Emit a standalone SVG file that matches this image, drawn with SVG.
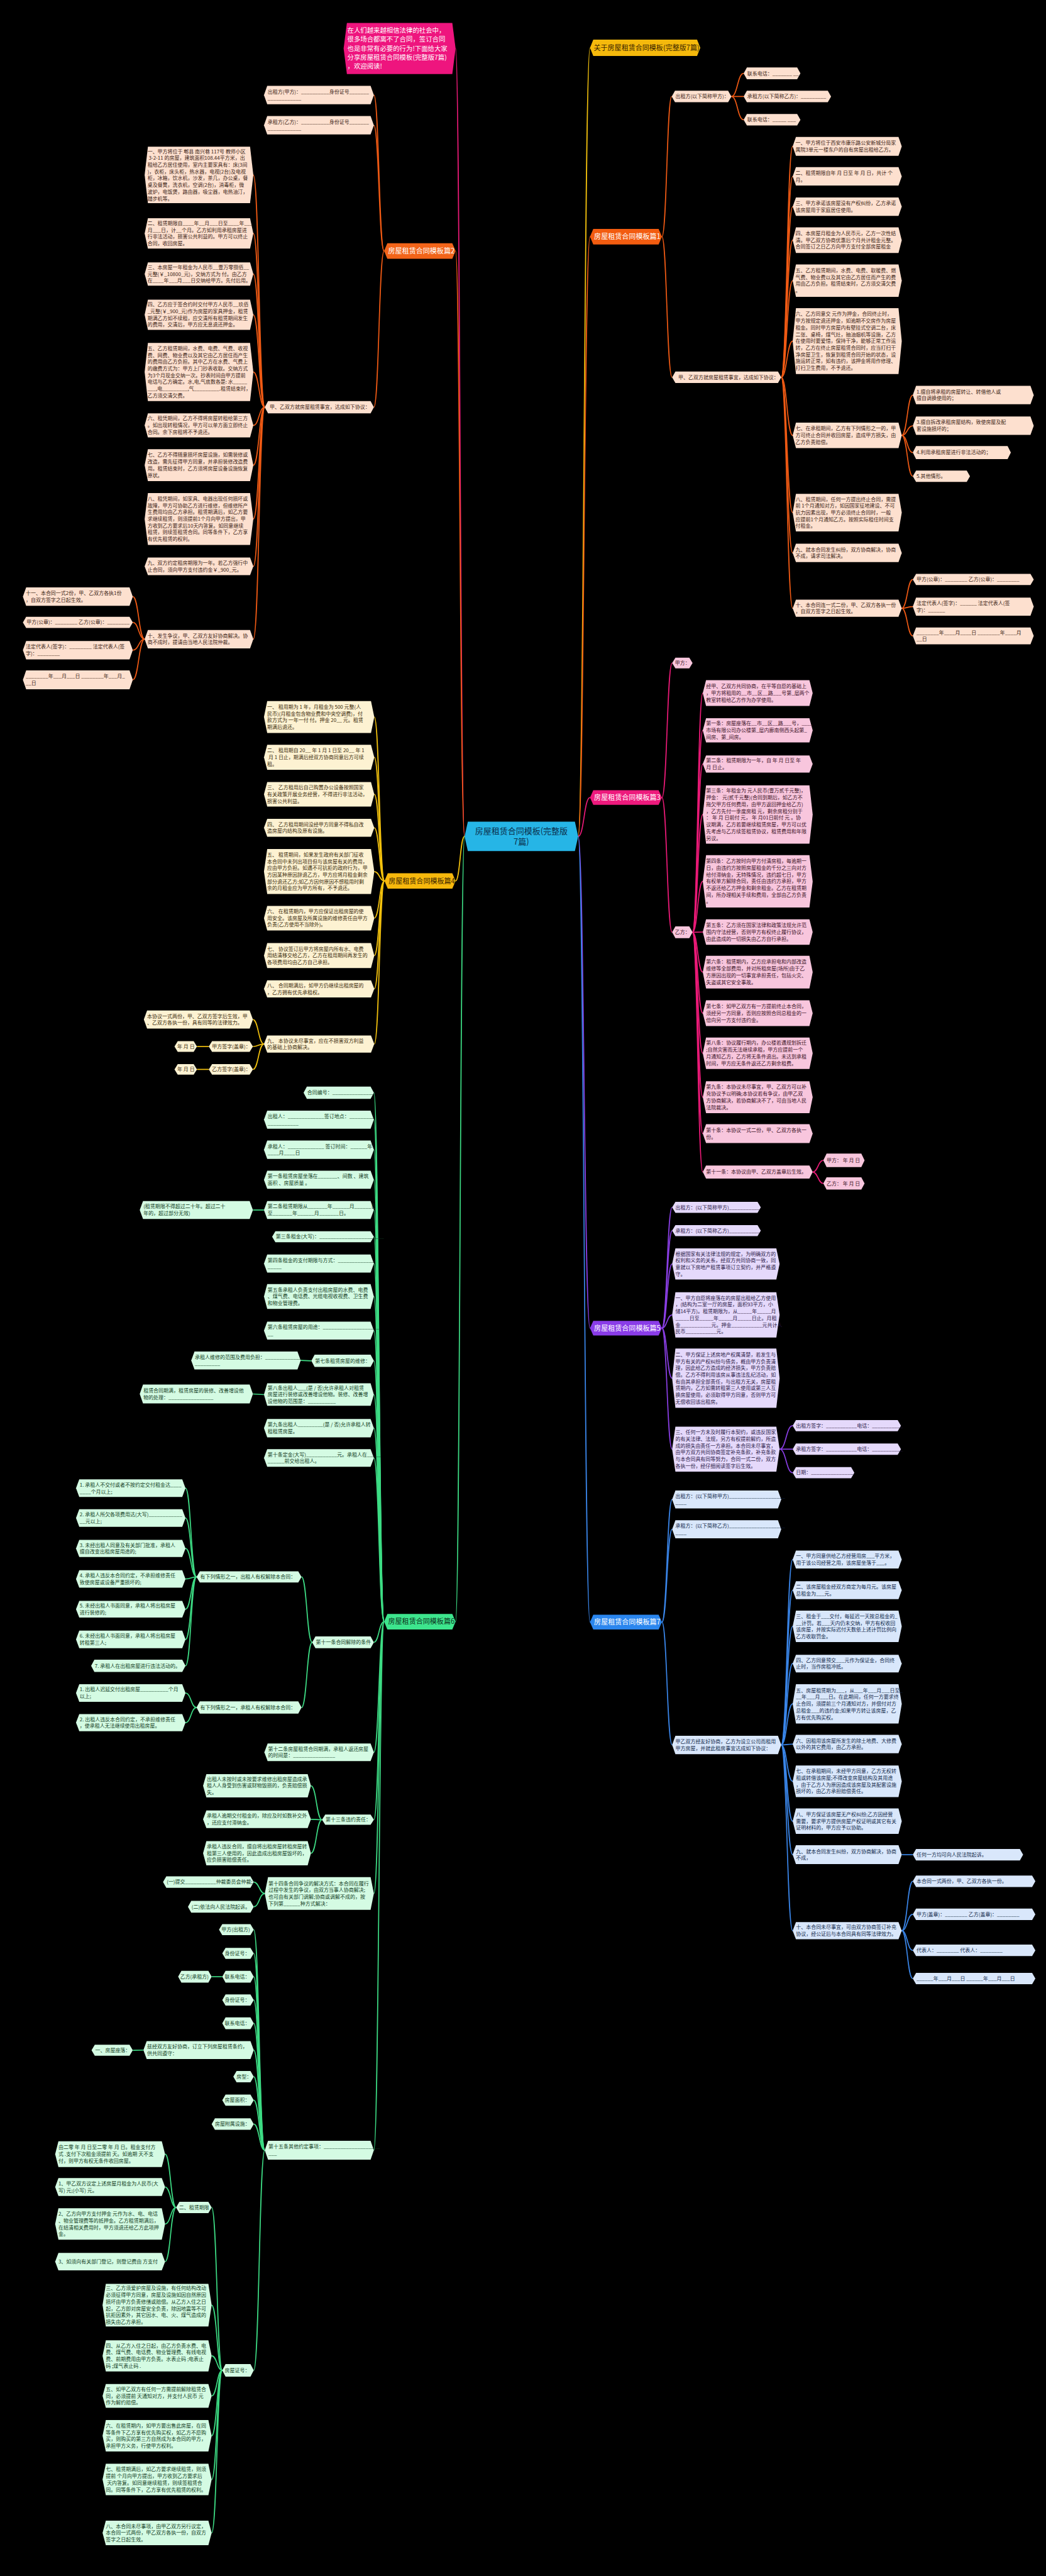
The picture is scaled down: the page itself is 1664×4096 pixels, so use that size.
<svg xmlns="http://www.w3.org/2000/svg" width="1664" height="4096" viewBox="0 0 1664 4096">
<defs>
<style>
text{font-family:"Noto Sans CJK SC","Noto Sans",sans-serif;font-size:12.3px}
.b text{font-size:17px}
.or path{fill:#fde0cf}.or text{fill:#3b2314}
.pk path{fill:#f8c6dd}.pk text{fill:#3a1025}
.ye path{fill:#fdf2d2}.ye text{fill:#3a2a0a}
.pu path{fill:#e5d9fb}.pu text{fill:#2a1846}
.gr path{fill:#d4fbe3}.gr text{fill:#123b24}
.bl path{fill:#d9e7fb}.bl text{fill:#10284a}
.cn path{fill:none;stroke-width:2.6}
.lo{stroke:#f05a14}.lp{stroke:#ec1a78}.ly{stroke:#f4c20d}.lu{stroke:#8b3fe6}.lg{stroke:#3ddc84}.lb{stroke:#3a86ea}
</style>
</defs>
<rect width="1664" height="4096" fill="#000"/>
<g transform="scale(0.65)">
<g id="connectors" class="cn">
<path class="ly" d="M1415,2046C1429.5,2046 1429.5,117 1444,117"/>
<path class="lo" d="M1415,2046C1429.5,2046 1429.5,579 1444,579"/>
<path class="lp" d="M1415,2046C1429.5,2046 1429.5,1951 1444,1951"/>
<path class="lu" d="M1415,2046C1429.5,2046 1429.5,3249 1444,3249"/>
<path class="lb" d="M1415,2046C1429.5,2046 1429.5,3968 1444,3968"/>
<path class="lp" d="M1137,2046C1126,2046 1126,118 1115,118"/>
<path class="lo" d="M1137,2046C1126,2046 1126,614 1115,614"/>
<path class="ly" d="M1137,2046C1126,2046 1126,2155 1115,2155"/>
<path class="lg" d="M1137,2046C1126,2046 1126,3967 1115,3967"/>
<g class="lo">
<path d="M1620,579C1632,579 1632,236 1644,236"/>
<path d="M1620,579C1632,579 1632,923 1645,923"/>
<path d="M1790,236C1805,236 1805,179.5 1820,179.5"/>
<path d="M1790,236L1820,236"/>
<path d="M1790,236C1805,236 1805,293 1820,293"/>
<path d="M1912,923C1926,923 1926,358 1940,358"/>
<path d="M1912,923C1926,923 1926,431.5 1940,431.5"/>
<path d="M1912,923C1926,923 1926,505.5 1940,505.5"/>
<path d="M1912,923C1926,923 1926,587.5 1940,587.5"/>
<path d="M1912,923C1926,923 1926,686.5 1940,686.5"/>
<path d="M1912,923C1926,923 1926,834.5 1940,834.5"/>
<path d="M1912,923C1926,923 1926,1065 1940,1065"/>
<path d="M1912,923C1926,923 1926,1254 1940,1254"/>
<path d="M1912,923C1926,923 1926,1352.5 1940,1352.5"/>
<path d="M1912,923C1926,923 1926,1488 1940,1488"/>
<path d="M2207,1065C2220.5,1065 2220.5,966.5 2234,966.5"/>
<path d="M2207,1065C2220.5,1065 2220.5,1041.5 2234,1041.5"/>
<path d="M2207,1065C2220.5,1065 2220.5,1107 2234,1107"/>
<path d="M2207,1065C2220.5,1065 2220.5,1165 2234,1165"/>
<path d="M2207,1488C2220.5,1488 2220.5,1417.5 2234,1417.5"/>
<path d="M2207,1488C2220.5,1488 2220.5,1484 2234,1484"/>
<path d="M2207,1488C2220.5,1488 2220.5,1555.5 2234,1555.5"/>
<path d="M940,614C927.5,614 927.5,232.5 915,232.5"/>
<path d="M940,614C927.5,614 927.5,306.5 915,306.5"/>
<path d="M940,614C927.5,614 927.5,996 915,996"/>
<path d="M648,996C634,996 634,428 620,428"/>
<path d="M648,996C634,996 634,571 620,571"/>
<path d="M648,996C634,996 634,670.5 620,670.5"/>
<path d="M648,996C634,996 634,770 620,770"/>
<path d="M648,996C634,996 634,910 620,910"/>
<path d="M648,996C634,996 634,1040.5 620,1040.5"/>
<path d="M648,996C634,996 634,1138 620,1138"/>
<path d="M648,996C634,996 634,1269.5 620,1269.5"/>
<path d="M648,996C634,996 634,1385.5 620,1385.5"/>
<path d="M648,996C634,996 634,1563.5 620,1563.5"/>
<path d="M354,1563.5C339.5,1563.5 339.5,1459.5 325,1459.5"/>
<path d="M354,1563.5C339.5,1563.5 339.5,1522.5 325,1522.5"/>
<path d="M354,1563.5C339.5,1563.5 339.5,1590.5 325,1590.5"/>
<path d="M354,1563.5C339.5,1563.5 339.5,1663 325,1663"/>
</g>
<g class="ly">
<path d="M941,2155C928.5,2155 928.5,1754 916,1754"/>
<path d="M941,2155C928.5,2155 928.5,1852.5 916,1852.5"/>
<path d="M941,2155C928.5,2155 928.5,1943 916,1943"/>
<path d="M941,2155C928.5,2155 928.5,2025 916,2025"/>
<path d="M941,2155C928.5,2155 928.5,2132 916,2132"/>
<path d="M941,2155C928.5,2155 928.5,2246 916,2246"/>
<path d="M941,2155C928.5,2155 928.5,2337.5 916,2337.5"/>
<path d="M941,2155C928.5,2155 928.5,2419 916,2419"/>
<path d="M941,2155C928.5,2155 928.5,2554 916,2554"/>
<path d="M646,2554C632.5,2554 632.5,2494 619,2494"/>
<path d="M646,2554C632.5,2554 632.5,2560 619,2560"/>
<path d="M646,2554C632.5,2554 632.5,2616 619,2616"/>
<path d="M511,2560L482,2560"/>
<path d="M511,2616L482,2616"/>
</g>
<g class="lg">
<path d="M940,3967C927.5,3967 927.5,2673 915,2673"/>
<path d="M940,3967C927.5,3967 927.5,2739 915,2739"/>
<path d="M940,3967C927.5,3967 927.5,2812.5 915,2812.5"/>
<path d="M940,3967C927.5,3967 927.5,2886 915,2886"/>
<path d="M940,3967C927.5,3967 927.5,2960 915,2960"/>
<path d="M940,3967C927.5,3967 927.5,3025.5 915,3025.5"/>
<path d="M940,3967C927.5,3967 927.5,3091 915,3091"/>
<path d="M940,3967C927.5,3967 927.5,3171.5 915,3171.5"/>
<path d="M940,3967C927.5,3967 927.5,3255 915,3255"/>
<path d="M940,3967C927.5,3967 927.5,3329 915,3329"/>
<path d="M940,3967C927.5,3967 927.5,3411.5 915,3411.5"/>
<path d="M940,3967C927.5,3967 927.5,3493.5 915,3493.5"/>
<path d="M940,3967C927.5,3967 927.5,3566.5 915,3566.5"/>
<path d="M940,3967C927.5,3967 927.5,4017.5 915,4017.5"/>
<path d="M940,3967C927.5,3967 927.5,4286.5 915,4286.5"/>
<path d="M940,3967C927.5,3967 927.5,4451.5 915,4451.5"/>
<path d="M940,3967C927.5,3967 927.5,4632 915,4632"/>
<path d="M940,3967C927.5,3967 927.5,5260 915,5260"/>
<path d="M646,2960L619,2960"/>
<path d="M762,3329L736,3328"/>
<path d="M646,3411.5L619,3410"/>
<path d="M764,4017.5C751,4017.5 751,3857.5 738,3857.5"/>
<path d="M764,4017.5C751,4017.5 751,4177 738,4177"/>
<path d="M481,3857.5C467.5,3857.5 467.5,3640.5 454,3640.5"/>
<path d="M481,3857.5C467.5,3857.5 467.5,3713.5 454,3713.5"/>
<path d="M481,3857.5C467.5,3857.5 467.5,3788 454,3788"/>
<path d="M481,3857.5C467.5,3857.5 467.5,3862.5 454,3862.5"/>
<path d="M481,3857.5C467.5,3857.5 467.5,3936.5 454,3936.5"/>
<path d="M481,3857.5C467.5,3857.5 467.5,4010.5 454,4010.5"/>
<path d="M481,3857.5C467.5,3857.5 467.5,4075 454,4075"/>
<path d="M481,4177C467.5,4177 467.5,4141.5 454,4141.5"/>
<path d="M481,4177C467.5,4177 467.5,4214 454,4214"/>
<path d="M788,4451.5C774.5,4451.5 774.5,4368.5 761,4368.5"/>
<path d="M788,4451.5C774.5,4451.5 774.5,4450.5 761,4450.5"/>
<path d="M788,4451.5C774.5,4451.5 774.5,4533.5 761,4533.5"/>
<path d="M648,4632C634.5,4632 634.5,4604 621,4604"/>
<path d="M648,4632C634.5,4632 634.5,4664.5 621,4664.5"/>
<path d="M648,5260C634.5,5260 634.5,4720.5 621,4720.5"/>
<path d="M648,5260C634.5,5260 634.5,4778.5 621,4778.5"/>
<path d="M648,5260C634.5,5260 634.5,4835.5 621,4835.5"/>
<path d="M648,5260C634.5,5260 634.5,4892.5 621,4892.5"/>
<path d="M648,5260C634.5,5260 634.5,4949.5 621,4949.5"/>
<path d="M648,5260C634.5,5260 634.5,5015 621,5015"/>
<path d="M648,5260C634.5,5260 634.5,5080 621,5080"/>
<path d="M648,5260C634.5,5260 634.5,5137.5 621,5137.5"/>
<path d="M648,5260C634.5,5260 634.5,5196 621,5196"/>
<path d="M648,5260C634.5,5260 634.5,5798.5 621,5798.5"/>
<path d="M544,4835.5L518,4835.5"/>
<path d="M351,5015L325,5015.5"/>
<path d="M544,5798.5C531,5798.5 531,5400 518,5400"/>
<path d="M544,5798.5C531,5798.5 531,5639 518,5639"/>
<path d="M544,5798.5C531,5798.5 531,5763 518,5763"/>
<path d="M544,5798.5C531,5798.5 531,5861 518,5861"/>
<path d="M544,5798.5C531,5798.5 531,5958.5 518,5958.5"/>
<path d="M544,5798.5C531,5798.5 531,6065.5 518,6065.5"/>
<path d="M544,5798.5C531,5798.5 531,6196 518,6196"/>
<path d="M431,5400C417.5,5400 417.5,5269.5 404,5269.5"/>
<path d="M431,5400C417.5,5400 417.5,5350 404,5350"/>
<path d="M431,5400C417.5,5400 417.5,5440.5 404,5440.5"/>
<path d="M431,5400C417.5,5400 417.5,5532.5 404,5532.5"/>
</g>
<g class="lp">
<path d="M1620,1951C1632.5,1951 1632.5,1622 1645,1622"/>
<path d="M1620,1951C1632.5,1951 1632.5,2280.5 1645,2280.5"/>
<path d="M1695,2280.5C1707.5,2280.5 1707.5,1695.5 1720,1695.5"/>
<path d="M1695,2280.5C1707.5,2280.5 1707.5,1786.5 1720,1786.5"/>
<path d="M1695,2280.5C1707.5,2280.5 1707.5,1869 1720,1869"/>
<path d="M1695,2280.5C1707.5,2280.5 1707.5,1992.5 1720,1992.5"/>
<path d="M1695,2280.5C1707.5,2280.5 1707.5,2156 1720,2156"/>
<path d="M1695,2280.5L1720,2280"/>
<path d="M1695,2280.5C1707.5,2280.5 1707.5,2378 1720,2378"/>
<path d="M1695,2280.5C1707.5,2280.5 1707.5,2478.5 1720,2478.5"/>
<path d="M1695,2280.5C1707.5,2280.5 1707.5,2576.5 1720,2576.5"/>
<path d="M1695,2280.5C1707.5,2280.5 1707.5,2684 1720,2684"/>
<path d="M1695,2280.5C1707.5,2280.5 1707.5,2773 1720,2773"/>
<path d="M1695,2280.5C1707.5,2280.5 1707.5,2867 1720,2867"/>
<path d="M1989,2867C2002,2867 2002,2838.5 2015,2838.5"/>
<path d="M1989,2867C2002,2867 2002,2895 2015,2895"/>
</g>
<g class="lu">
<path d="M1620,3249C1632.5,3249 1632.5,2953.5 1645,2953.5"/>
<path d="M1620,3249C1632.5,3249 1632.5,3010.5 1645,3010.5"/>
<path d="M1620,3249C1632.5,3249 1632.5,3092 1645,3092"/>
<path d="M1620,3249C1632.5,3249 1632.5,3216.5 1645,3216.5"/>
<path d="M1620,3249C1632.5,3249 1632.5,3371.5 1645,3371.5"/>
<path d="M1620,3249C1632.5,3249 1632.5,3545 1645,3545"/>
<path d="M1908,3545C1924,3545 1924,3487.5 1940,3487.5"/>
<path d="M1908,3545L1940,3545"/>
<path d="M1908,3545C1924,3545 1924,3602.5 1940,3602.5"/>
</g>
<g class="lb">
<path d="M1620,3968C1632.5,3968 1632.5,3668 1645,3668"/>
<path d="M1620,3968C1632.5,3968 1632.5,3741 1645,3741"/>
<path d="M1620,3968C1632.5,3968 1632.5,4268.5 1645,4268.5"/>
<path d="M1912,4268.5C1926,4268.5 1926,3815 1940,3815"/>
<path d="M1912,4268.5C1926,4268.5 1926,3890 1940,3890"/>
<path d="M1912,4268.5C1926,4268.5 1926,3978.5 1940,3978.5"/>
<path d="M1912,4268.5C1926,4268.5 1926,4069.5 1940,4069.5"/>
<path d="M1912,4268.5C1926,4268.5 1926,4168 1940,4168"/>
<path d="M1912,4268.5C1926,4268.5 1926,4266.5 1940,4266.5"/>
<path d="M1912,4268.5C1926,4268.5 1926,4357.5 1940,4357.5"/>
<path d="M1912,4268.5C1926,4268.5 1926,4455 1940,4455"/>
<path d="M1912,4268.5C1926,4268.5 1926,4537 1940,4537"/>
<path d="M1912,4268.5C1926,4268.5 1926,4723 1940,4723"/>
<path d="M2207,4537L2234,4537"/>
<path d="M2207,4723C2220.5,4723 2220.5,4602 2234,4602"/>
<path d="M2207,4723C2220.5,4723 2220.5,4683 2234,4683"/>
<path d="M2207,4723C2220.5,4723 2220.5,4771 2234,4771"/>
<path d="M2207,4723C2220.5,4723 2220.5,4840 2234,4840"/>
</g>
</g>

<g id="center"><path d="M1145,2010h262l8,36l-8,36h-262l-8,-36z" fill="#26b5e6"/><text x="1276" y="2040" text-anchor="middle" style="font-size:20px" fill="#0b2e4a"><tspan x="1276" dy="0">房屋租赁合同模板(完整版</tspan><tspan x="1276" dy="26">7篇)</tspan></text></g>
<g id="intro"><path d="M849,56h258l8,62.5l-8,62.5h-258l-8,-62.5z" fill="#ee157e"/><text x="850" y="80" style="font-size:16px" fill="#fff"><tspan x="850" dy="0">在人们越来越相信法律的社会中，</tspan><tspan x="850" dy="22">很多场合都离不了合同，签订合同</tspan><tspan x="850" dy="22">也是非常有必要的行为!下面给大家</tspan><tspan x="850" dy="22">分享房屋租赁合同模板(完整版7篇)</tspan><tspan x="850" dy="22">，欢迎阅读!</tspan></text></g>
<g id="about" class="b"><path d="M1452,97h254l8,20l-8,20h-254l-8,-20z" fill="#f5b90c"/><text x="1453" y="123" fill="#3b2500">关于房屋租赁合同模板(完整版7篇)</text></g>

<g id="p1" class="b"><path d="M1452,560h160l8,19l-8,19h-160l-8,-19z" fill="#f25c10"/><text x="1454" y="585" fill="#fff">房屋租赁合同模板篇1</text></g>
<g id="p2" class="b"><path d="M948,595h159l8,19l-8,19h-159l-8,-19z" fill="#f26419"/><text x="950" y="620" fill="#fff">房屋租赁合同模板篇2</text></g>
<g id="p3" class="b"><path d="M1452,1933h160l8,18l-8,18h-160l-8,-18z" fill="#ee1a7d"/><text x="1454" y="1957" fill="#fff">房屋租赁合同模板篇3</text></g>
<g id="p4" class="b"><path d="M949,2136h158l8,19l-8,19h-158l-8,-19z" fill="#f7b80c"/><text x="951" y="2161" fill="#3b2500">房屋租赁合同模板篇4</text></g>
<g id="p5" class="b"><path d="M1452,3231h160l8,18l-8,18h-160l-8,-18z" fill="#8a3ce8"/><text x="1454" y="3255" fill="#fff">房屋租赁合同模板篇5</text></g>
<g id="p6" class="b"><path d="M948,3948h159l8,19l-8,19h-159l-8,-19z" fill="#3de58d"/><text x="950" y="3973" fill="#0d3320">房屋租赁合同模板篇6</text></g>
<g id="p7" class="b"><path d="M1452,3950h160l8,18l-8,18h-160l-8,-18z" fill="#2b86ee"/><text x="1454" y="3974" fill="#fff">房屋租赁合同模板篇7</text></g>

<g class="or">
<g id="p1a"><path d="M1652,222h130l8,14l-8,14h-130l-8,-14z"/><text x="1653" y="240.4">出租方(以下简称甲方)：</text></g>
<g id="p1a1"><path d="M1828,165h123l8,14.5l-8,14.5h-123l-8,-14.5z"/><text x="1829" y="183.9">联系电话：_______ __</text></g>
<g id="p1a2"><path d="M1828,222h198l8,14l-8,14h-198l-8,-14z"/><text x="1829" y="240.4">承租方(以下简称乙方)：_________</text></g>
<g id="p1a3"><path d="M1828,279h123l8,14l-8,14h-123l-8,-14z"/><text x="1829" y="297.4">联系电话：_____ ___</text></g>
<g id="p1b"><path d="M1653,909h251l8,14l-8,14h-251l-8,-14z"/><text x="1660" y="927.4">甲、乙双方就房屋租赁事宜，达成如下协议：</text></g>
<g id="p1b1"><path d="M1948,335h251l8,23l-8,23h-251l-8,-23z"/><text x="1947" y="354.15"><tspan x="1947" dy="0">一、甲方将位于西安市康乐路公安新城分局家</tspan><tspan x="1947" dy="16.5">属院3单元一楼东户的自有房屋出租给乙方。</tspan></text></g>
<g id="p1b2"><path d="M1948,409h251l8,22.5l-8,22.5h-251l-8,-22.5z"/><text x="1947" y="427.65"><tspan x="1947" dy="0">二、租赁期限自年 月 日至 年 月 日，共计 个</tspan><tspan x="1947" dy="16.5">月。</tspan></text></g>
<g id="p1b3"><path d="M1948,483h251l8,22.5l-8,22.5h-251l-8,-22.5z"/><text x="1947" y="501.65"><tspan x="1947" dy="0">三、甲方承诺该房屋没有产权纠纷，乙方承诺</tspan><tspan x="1947" dy="16.5">该房屋用于家庭居住使用。</tspan></text></g>
<g id="p1b4"><path d="M1948,556h251l8,31.5l-8,31.5h-251l-8,-31.5z"/><text x="1947" y="575.4"><tspan x="1947" dy="0">四、本房屋月租金为人民币元，乙方一次性结</tspan><tspan x="1947" dy="16.5">清。甲乙双方协商优惠后个月共计租金元整。</tspan><tspan x="1947" dy="16.5">合同签订之日乙方向甲方支付全部房屋租金</tspan></text></g>
<g id="p1b5"><path d="M1948,647h251l8,39.5l-8,39.5h-251l-8,-39.5z"/><text x="1947" y="666.15"><tspan x="1947" dy="0">五、乙方租赁期间，水费、电费、取暖费、燃</tspan><tspan x="1947" dy="16.5">气费、物业费以及其它由乙方居住而产生的费</tspan><tspan x="1947" dy="16.5">用由乙方负担。租赁结束时，乙方须交清欠费</tspan><tspan x="1947" dy="16.5">。</tspan></text></g>
<g id="p1b6"><path d="M1948,754h251l8,80.5l-8,80.5h-251l-8,-80.5z"/><text x="1947" y="772.9"><tspan x="1947" dy="0">六、乙方同意交 元作为押金，合同终止时，</tspan><tspan x="1947" dy="16.5">甲方按规定退还押金，如逾期不交房作为房屋</tspan><tspan x="1947" dy="16.5">租金。同时甲方房屋内有壁挂式空调二台，床</tspan><tspan x="1947" dy="16.5">二张、桌椅，煤气灶，抽油烟机等设施，乙方</tspan><tspan x="1947" dy="16.5">在使用时要爱惜，保持干净，能够正常工作运</tspan><tspan x="1947" dy="16.5">转，乙方在终止房屋租赁合同时，应当打扫干</tspan><tspan x="1947" dy="16.5">净房屋卫生，恢复到租赁合同开始的状态，设</tspan><tspan x="1947" dy="16.5">施运转正常，如有违约，该押金将用作修理、</tspan><tspan x="1947" dy="16.5">打扫卫生费用，不予退还。</tspan></text></g>
<g id="p1b7"><path d="M1948,1034h251l8,31l-8,31h-251l-8,-31z"/><text x="1947" y="1052.9"><tspan x="1947" dy="0">七、在承租期间，乙方有下列情形之一的，甲</tspan><tspan x="1947" dy="16.5">方可终止合同并收回房屋，造成甲方损失，由</tspan><tspan x="1947" dy="16.5">乙方负责赔偿。</tspan></text></g>
<g id="p1b8"><path d="M1948,1208h251l8,46l-8,46h-251l-8,-46z"/><text x="1947" y="1225.4"><tspan x="1947" dy="0">八、租赁期间，任何一方提出终止合同，需提</tspan><tspan x="1947" dy="16.5">前 1个月通知对方，如因国家征地建设、不可</tspan><tspan x="1947" dy="16.5">抗力因素出现，甲方必须终止合同时，一般</tspan><tspan x="1947" dy="16.5">应提前1个月通知乙方。按照实际租住时间支</tspan><tspan x="1947" dy="16.5">付租金。</tspan></text></g>
<g id="p1b9"><path d="M1948,1330h251l8,22.5l-8,22.5h-251l-8,-22.5z"/><text x="1947" y="1348.65"><tspan x="1947" dy="0">九、就本合同发生纠纷，双方协商解决，协商</tspan><tspan x="1947" dy="16.5">不成，请求司法解决。</tspan></text></g>
<g id="p1b10"><path d="M1948,1467h251l8,21l-8,21h-251l-8,-21z"/><text x="1947" y="1484.15"><tspan x="1947" dy="0">十、本合同连一式二份，甲、乙双方各执一份</tspan><tspan x="1947" dy="16.5">，自双方签字之日起生效。</tspan></text></g>
<g id="p1c1"><path d="M2242,944h280l8,22.5l-8,22.5h-280l-8,-22.5z"/><text x="2243" y="962.65"><tspan x="2243" dy="0">1.擅自将承租的房屋转让、转借他人或</tspan><tspan x="2243" dy="16.5">擅自调换使用的；</tspan></text></g>
<g id="p1c3"><path d="M2242,1019h280l8,22.5l-8,22.5h-280l-8,-22.5z"/><text x="2243" y="1037.65"><tspan x="2243" dy="0">3.擅自拆改承租房屋结构，致使房屋及配</tspan><tspan x="2243" dy="16.5">套设施损坏的；</tspan></text></g>
<g id="p1c4"><path d="M2242,1091h224l8,16l-8,16h-224l-8,-16z"/><text x="2243" y="1111.4">4.利用承租房屋进行非法活动的；</text></g>
<g id="p1c5"><path d="M2242,1151h124l8,14l-8,14h-124l-8,-14z"/><text x="2243" y="1169.4">5.其他情形。</text></g>
<g id="p1d1"><path d="M2242,1404h280l8,13.5l-8,13.5h-280l-8,-13.5z"/><text x="2243" y="1421.9">甲方(公章)：________ 乙方(公章)：________</text></g>
<g id="p1d2"><path d="M2242,1462h280l8,22l-8,22h-280l-8,-22z"/><text x="2243" y="1480.15"><tspan x="2243" dy="0">法定代表人(签字)：______ 法定代表人(签</tspan><tspan x="2243" dy="16.5">字)：______</tspan></text></g>
<g id="p1d3"><path d="M2242,1535h280l8,20.5l-8,20.5h-280l-8,-20.5z"/><text x="2243" y="1551.65"><tspan x="2243" dy="0">________年____月____日 ________年____月</tspan><tspan x="2243" dy="16.5">__日</tspan></text></g>

<g id="p2a"><path d="M654,210h253l8,22.5l-8,22.5h-253l-8,-22.5z"/><text x="655" y="228.65"><tspan x="655" dy="0">出租方(甲方)：__________身份证号_______</tspan><tspan x="655" dy="16.5">____________</tspan></text></g>
<g id="p2b"><path d="M654,284h253l8,22.5l-8,22.5h-253l-8,-22.5z"/><text x="655" y="302.65"><tspan x="655" dy="0">承租方(乙方)：__________身份证号_______</tspan><tspan x="655" dy="16.5">____________</tspan></text></g>
<g id="p2c"><path d="M656,981h251l8,15l-8,15h-251l-8,-15z"/><text x="660" y="1000.4">甲、乙双方就房屋租赁事宜，达成如下协议：</text></g>
<g id="p2c1"><path d="M362,359h250l8,69l-8,69h-250l-8,-69z"/><text x="361" y="374.65"><tspan x="361" dy="0">一、甲方将位于 郫县 南兴巷 117号 教师小区</tspan><tspan x="361" dy="16.5"> 3-2-11 的房屋，建筑面积108.44平方米，出</tspan><tspan x="361" dy="16.5">租给乙方居住使用，室内主要家具有：床(3间</tspan><tspan x="361" dy="16.5">)，衣柜，床头柜，热水器，电视(2台)及电视</tspan><tspan x="361" dy="16.5">柜，冰箱，饮水机，沙发，茶几，办公桌，餐</tspan><tspan x="361" dy="16.5">桌及餐凳，洗衣机，空调(2台)，消毒柜，微</tspan><tspan x="361" dy="16.5">波炉，电饭煲，路由器，吸尘器，电热油汀，</tspan><tspan x="361" dy="16.5">踏步机等。</tspan></text></g>
<g id="p2c2"><path d="M362,534h250l8,37l-8,37h-250l-8,-37z"/><text x="361" y="550.65"><tspan x="361" dy="0">二、租赁期限自____年__月___日至____年___</tspan><tspan x="361" dy="16.5">月___日，计__个月。乙方如利用承租房屋进</tspan><tspan x="361" dy="16.5">行非法活动，损害公共利益的。甲方可以终止</tspan><tspan x="361" dy="16.5">合同，收回房屋。</tspan></text></g>
<g id="p2c3"><path d="M362,642h250l8,28.5l-8,28.5h-250l-8,-28.5z"/><text x="361" y="658.4"><tspan x="361" dy="0">三、本房屋一年租金为人民币__壹万零捌佰__</tspan><tspan x="361" dy="16.5">元整(￥_10800_元)，交纳方式为 付。由乙方</tspan><tspan x="361" dy="16.5">在____年___月___日交纳给甲方。先付后用。</tspan></text></g>
<g id="p2c4"><path d="M362,733h250l8,37l-8,37h-250l-8,-37z"/><text x="361" y="749.65"><tspan x="361" dy="0">四、乙方应于签合约时交付甲方人民币__玖佰</tspan><tspan x="361" dy="16.5">_元整(￥_900_元)作为房屋的家具押金，租赁</tspan><tspan x="361" dy="16.5">期满乙方如不续租，应交清所有租赁期间发生</tspan><tspan x="361" dy="16.5">的费用，交清后，甲方应无息退还押金。</tspan></text></g>
<g id="p2c5"><path d="M362,839h250l8,71l-8,71h-250l-8,-71z"/><text x="361" y="856.65"><tspan x="361" dy="0">五、乙方租赁期间，水费、电费、气费、收视</tspan><tspan x="361" dy="16.5">费、网费、物业费以及其它由乙方居住而产生</tspan><tspan x="361" dy="16.5">的费用由乙方负担。其中乙方在水费、气费上</tspan><tspan x="361" dy="16.5">的缴费方式为：甲方上门抄表收取。交纳方式</tspan><tspan x="361" dy="16.5">为3个月现金交纳一次。抄表时间由甲方提前</tspan><tspan x="361" dy="16.5">电话与乙方确定。水,电,气底数各是: 水_____</tspan><tspan x="361" dy="16.5">___,电_________,气_________.租赁结束时，</tspan><tspan x="361" dy="16.5">乙方须交清欠费。</tspan></text></g>
<g id="p2c6"><path d="M362,1011h250l8,29.5l-8,29.5h-250l-8,-29.5z"/><text x="361" y="1028.4"><tspan x="361" dy="0">六、租凭期间，乙方不得将房屋转租给第三方</tspan><tspan x="361" dy="16.5">。如出现转租情况，甲方可以单方面立即终止</tspan><tspan x="361" dy="16.5">合同。余下房租将不予退还。</tspan></text></g>
<g id="p2c7"><path d="M362,1099h250l8,39l-8,39h-250l-8,-39z"/><text x="361" y="1117.65"><tspan x="361" dy="0">七、乙方不得随意损坏房屋设施，如需装修或</tspan><tspan x="361" dy="16.5">改造，需先征得甲方同意，并承担装修改造费</tspan><tspan x="361" dy="16.5">用。租赁结束时，乙方须将房屋设备设施恢复</tspan><tspan x="361" dy="16.5">原状。</tspan></text></g>
<g id="p2c8"><path d="M362,1206h250l8,63.5l-8,63.5h-250l-8,-63.5z"/><text x="361" y="1224.4"><tspan x="361" dy="0">八、租凭期间，如家具、电器出现任何损坏或</tspan><tspan x="361" dy="16.5">故障，甲方可协助乙方进行维修，但维修所产</tspan><tspan x="361" dy="16.5">生费用均由乙方承担。租赁期满后，如乙方要</tspan><tspan x="361" dy="16.5">求继续租赁，则须提前1个月向甲方提出，甲</tspan><tspan x="361" dy="16.5">方收到乙方要求后10天内答复。如同意继续</tspan><tspan x="361" dy="16.5">租赁，则续签租赁合同。同等条件下，乙方享</tspan><tspan x="361" dy="16.5">有优先租赁的权利。</tspan></text></g>
<g id="p2c9"><path d="M362,1364h250l8,21.5l-8,21.5h-250l-8,-21.5z"/><text x="361" y="1381.65"><tspan x="361" dy="0">九、双方约定租房期限为一年。若乙方强行中</tspan><tspan x="361" dy="16.5">止合同，须向甲方支付违约金￥_900_元。</tspan></text></g>
<g id="p2c10"><path d="M362,1541h250l8,22.5l-8,22.5h-250l-8,-22.5z"/><text x="361" y="1559.65"><tspan x="361" dy="0">十、发生争议，甲、乙双方友好协商解决。协</tspan><tspan x="361" dy="16.5">商不成时，提请由当地人民法院仲裁。</tspan></text></g>
<g id="p2d1"><path d="M64,1437h253l8,22.5l-8,22.5h-253l-8,-22.5z"/><text x="63" y="1455.65"><tspan x="63" dy="0">十一、本合同一式2份，甲、乙双方各执1份</tspan><tspan x="63" dy="16.5">，自双方签字之日起生效。</tspan></text></g>
<g id="p2d2"><path d="M64,1509h253l8,13.5l-8,13.5h-253l-8,-13.5z"/><text x="65" y="1526.9">甲方(公章)：________ 乙方(公章)：________</text></g>
<g id="p2d3"><path d="M64,1568h253l8,22.5l-8,22.5h-253l-8,-22.5z"/><text x="63" y="1586.65"><tspan x="63" dy="0">法定代表人(签字)：________ 法定代表人(签</tspan><tspan x="63" dy="16.5">字)：________</tspan></text></g>
<g id="p2d4"><path d="M64,1640h253l8,23l-8,23h-253l-8,-23z"/><text x="63" y="1659.15"><tspan x="63" dy="0">________年___月___日 ________年___月_</tspan><tspan x="63" dy="16.5">__日</tspan></text></g>
</g>

<g class="ye">
<g id="p4a1"><path d="M654,1715h254l8,39l-8,39h-254l-8,-39z"/><text x="654" y="1733.65"><tspan x="654" dy="0">一、 租用期为 1 年，月租金为 500 元整(人</tspan><tspan x="654" dy="16.5">民币)(月租金包含物业费和中央空调费)，付</tspan><tspan x="654" dy="16.5">款方式为 一年一付 付。押金 20__ 元。租赁</tspan><tspan x="654" dy="16.5">期满后退还。</tspan></text></g>
<g id="p4a2"><path d="M654,1822h254l8,30.5l-8,30.5h-254l-8,-30.5z"/><text x="654" y="1840.4"><tspan x="654" dy="0">二、 租用期自 20__ 年 1 月 1 日至 20__ 年 1</tspan><tspan x="654" dy="16.5"> 月 1 日止，期满后经双方协商同意后方可续</tspan><tspan x="654" dy="16.5">租。</tspan></text></g>
<g id="p4a3"><path d="M654,1913h254l8,30l-8,30h-254l-8,-30z"/><text x="654" y="1930.9"><tspan x="654" dy="0">三、 乙方租用后自己购置办公设备按照国家</tspan><tspan x="654" dy="16.5">有关政策开展业务经营，不得进行非法活动，</tspan><tspan x="654" dy="16.5">损害公共利益。</tspan></text></g>
<g id="p4a4"><path d="M654,2003h254l8,22l-8,22h-254l-8,-22z"/><text x="654" y="2021.15"><tspan x="654" dy="0">四、 乙方租用期间没经甲方同意不得私自改</tspan><tspan x="654" dy="16.5">造房屋内结构及原有设施。</tspan></text></g>
<g id="p4a5"><path d="M654,2077h254l8,55l-8,55h-254l-8,-55z"/><text x="654" y="2095.15"><tspan x="654" dy="0">五、 租赁期间，如果发生政府有关部门征收</tspan><tspan x="654" dy="16.5">本合同中未列出项目但与该房屋有关的费用，</tspan><tspan x="654" dy="16.5">应由甲方负担。如遇不可抗拒的政府行为，甲</tspan><tspan x="654" dy="16.5">方因某种原因辞退乙方，甲方应将月租金剩余</tspan><tspan x="654" dy="16.5">部分退还乙方;如乙方因何原因不想租用时剩</tspan><tspan x="654" dy="16.5">余的月租金应为甲方所有，不予退还。</tspan></text></g>
<g id="p4a6"><path d="M654,2216h254l8,30l-8,30h-254l-8,-30z"/><text x="654" y="2233.9"><tspan x="654" dy="0">六、 在租赁期内，甲方应保证出租房屋的使</tspan><tspan x="654" dy="16.5">用安全。该房屋及所属设施的维修责任由甲方</tspan><tspan x="654" dy="16.5">负责(乙方使用不当除外)。</tspan></text></g>
<g id="p4a7"><path d="M654,2307h254l8,30.5l-8,30.5h-254l-8,-30.5z"/><text x="654" y="2325.4"><tspan x="654" dy="0">七、 协议签订后甲方将房屋内所有水、电费</tspan><tspan x="654" dy="16.5">用结清移交给乙方，乙方在租用期间再发生的</tspan><tspan x="654" dy="16.5">各项费用均由乙方自己承担。</tspan></text></g>
<g id="p4a8"><path d="M654,2398h254l8,21l-8,21h-254l-8,-21z"/><text x="654" y="2415.15"><tspan x="654" dy="0">八、 合同期满后，如甲方仍继续出租房屋的</tspan><tspan x="654" dy="16.5">，乙方拥有优先承租权。</tspan></text></g>
<g id="p4a9"><path d="M654,2533h254l8,21l-8,21h-254l-8,-21z"/><text x="654" y="2550.15"><tspan x="654" dy="0">九、 本协议未尽事宜，应在不损害双方利益</tspan><tspan x="654" dy="16.5">的基础上协商解决。</tspan></text></g>
<g id="p4b1"><path d="M360,2472h251l8,22l-8,22h-251l-8,-22z"/><text x="360" y="2490.15"><tspan x="360" dy="0">本协议一式两份，甲、乙双方签字后生效，甲</tspan><tspan x="360" dy="16.5">、乙双方各执一份，具有同等的法律效力。</tspan></text></g>
<g id="p4b2"><path d="M519,2547h92l8,13l-8,13h-92l-8,-13z"/><text x="519" y="2564.4">甲方签字(盖章)：</text></g>
<g id="p4b2a"><path d="M435,2547h39l8,13l-8,13h-39l-8,-13z"/><text x="434" y="2564.4">年 月 日</text></g>
<g id="p4b3"><path d="M519,2603h92l8,13l-8,13h-92l-8,-13z"/><text x="519" y="2620.4">乙方签字(盖章)：</text></g>
<g id="p4b3a"><path d="M435,2603h39l8,13l-8,13h-39l-8,-13z"/><text x="434" y="2620.4">年 月 日</text></g>
</g>

<g class="gr">
<g id="p6a"><path d="M751,2658h156l8,15l-8,15h-156l-8,-15z"/><text x="752" y="2677.4">合同编号：_______________</text></g>
<g id="p6b"><path d="M654,2717h253l8,22l-8,22h-253l-8,-22z"/><text x="655" y="2735.15"><tspan x="655" dy="0">出租人：_____________签订地点：_________</tspan><tspan x="655" dy="16.5">___________</tspan></text></g>
<g id="p6c"><path d="M654,2790h253l8,22.5l-8,22.5h-253l-8,-22.5z"/><text x="655" y="2808.65"><tspan x="655" dy="0">承租人：_____________ 签订时间：______年</tspan><tspan x="655" dy="16.5">____月____日</tspan></text></g>
<g id="p6d"><path d="M654,2864h253l8,22l-8,22h-253l-8,-22z"/><text x="655" y="2882.15"><tspan x="655" dy="0">第一条租赁房屋坐落在_______、间数 、建筑</tspan><tspan x="655" dy="16.5">面积 、房屋质量 。</tspan></text></g>
<g id="p6e"><path d="M654,2938h253l8,22l-8,22h-253l-8,-22z"/><text x="655" y="2956.15"><tspan x="655" dy="0">第二条租赁期限从_______年______月______日</tspan><tspan x="655" dy="16.5">至_______年______月_______日。</tspan></text></g>
<g id="p6e1"><path d="M350,2938h261l8,22l-8,22h-261l-8,-22z"/><text x="351" y="2956.15"><tspan x="351" dy="0">(租赁期限不得超过二十年。超过二十</tspan><tspan x="351" dy="16.5">年的，超过部分无效)</tspan></text></g>
<g id="p6f"><path d="M674,3012h233l8,13.5l-8,13.5h-233l-8,-13.5z"/><text x="675" y="3029.9">第三条租金(大写)：_______________________</text></g>
<g id="p6g"><path d="M654,3069h253l8,22l-8,22h-253l-8,-22z"/><text x="655" y="3087.15"><tspan x="655" dy="0">第四条租金的支付期限与方式：_____________</tspan><tspan x="655" dy="16.5">_____</tspan></text></g>
<g id="p6h"><path d="M654,3141h253l8,30.5l-8,30.5h-253l-8,-30.5z"/><text x="655" y="3159.4"><tspan x="655" dy="0">第五条承租人负责支付出租房屋的水费、电费</tspan><tspan x="655" dy="16.5">、煤气费、电话费、光缆电视收视费、卫生费</tspan><tspan x="655" dy="16.5">和物业管理费。</tspan></text></g>
<g id="p6i"><path d="M654,3233h253l8,22l-8,22h-253l-8,-22z"/><text x="655" y="3251.15"><tspan x="655" dy="0">第六条租赁房屋的用途：____________________</tspan><tspan x="655" dy="16.5">__</tspan></text></g>
<g id="p6j"><path d="M770,3314h137l8,15l-8,15h-137l-8,-15z"/><text x="771" y="3333.4">第七条租赁房屋的维修：</text></g>
<g id="p6j1"><path d="M476,3306h252l8,22l-8,22h-252l-8,-22z"/><text x="477" y="3324.15"><tspan x="477" dy="0">承租人维修的范围及费用负担：_____________</tspan><tspan x="477" dy="16.5">_________</tspan></text></g>
<g id="p6k"><path d="M654,3384h253l8,27.5l-8,27.5h-253l-8,-27.5z"/><text x="655" y="3399.4"><tspan x="655" dy="0">第八条出租人___(是 / 否)允许承租人对租赁</tspan><tspan x="655" dy="16.5">房屋进行装修或改善增设他物。装修、改善增</tspan><tspan x="655" dy="16.5">设他物的范围是：__________</tspan></text></g>
<g id="p6k1"><path d="M350,3387h261l8,23l-8,23h-261l-8,-23z"/><text x="351" y="3406.15"><tspan x="351" dy="0">租赁合同期满，租赁房屋的装修、改善增设他</tspan><tspan x="351" dy="16.5">物的处理：________________</tspan></text></g>
<g id="p6l"><path d="M654,3471h253l8,22.5l-8,22.5h-253l-8,-22.5z"/><text x="655" y="3489.65"><tspan x="655" dy="0">第九条出租人_________(是 / 否)允许承租人转</tspan><tspan x="655" dy="16.5">租租赁房屋。</tspan></text></g>
<g id="p6m"><path d="M654,3545h253l8,21.5l-8,21.5h-253l-8,-21.5z"/><text x="655" y="3562.65"><tspan x="655" dy="0">第十条定金(大写)___________元。承租人在_____</tspan><tspan x="655" dy="16.5">______前交给出租人。</tspan></text></g>
<g id="p6n"><path d="M772,4003h135l8,14.5l-8,14.5h-135l-8,-14.5z"/><text x="773" y="4021.9">第十一条合同解除的条件</text></g>
<g id="p6n1"><path d="M489,3844h241l8,13.5l-8,13.5h-241l-8,-13.5z"/><text x="490" y="3861.9">有下列情形之一，出租人有权解除本合同：</text></g>
<g id="p6n11"><path d="M194,3619h252l8,21.5l-8,21.5h-252l-8,-21.5z"/><text x="195" y="3636.65"><tspan x="195" dy="0">1. 承租人不交付或者不按约定交付租金达____</tspan><tspan x="195" dy="16.5">____个月以上;</tspan></text></g>
<g id="p6n12"><path d="M194,3692h252l8,21.5l-8,21.5h-252l-8,-21.5z"/><text x="195" y="3709.65"><tspan x="195" dy="0">2. 承租人所欠各项费用达(大写)____________</tspan><tspan x="195" dy="16.5">__元以上;</tspan></text></g>
<g id="p6n13"><path d="M194,3767h252l8,21l-8,21h-252l-8,-21z"/><text x="195" y="3784.15"><tspan x="195" dy="0">3. 未经出租人同意及有关部门批准，承租人</tspan><tspan x="195" dy="16.5">擅自改变出租房屋用途的;</tspan></text></g>
<g id="p6n14"><path d="M194,3841h252l8,21.5l-8,21.5h-252l-8,-21.5z"/><text x="195" y="3858.65"><tspan x="195" dy="0">4. 承租人违反本合同约定，不承担维修责任</tspan><tspan x="195" dy="16.5">致使房屋或设备严重损坏的;</tspan></text></g>
<g id="p6n15"><path d="M194,3916h252l8,20.5l-8,20.5h-252l-8,-20.5z"/><text x="195" y="3932.65"><tspan x="195" dy="0">5. 未经出租人书面同意，承租人将出租房屋</tspan><tspan x="195" dy="16.5">进行装修的;</tspan></text></g>
<g id="p6n16"><path d="M194,3989h252l8,21.5l-8,21.5h-252l-8,-21.5z"/><text x="195" y="4006.65"><tspan x="195" dy="0">6. 未经出租人书面同意，承租人将出租房屋</tspan><tspan x="195" dy="16.5">转租第三人;</tspan></text></g>
<g id="p6n17"><path d="M231,4060h215l8,15l-8,15h-215l-8,-15z"/><text x="232" y="4079.4">7. 承租人在出租房屋进行违法活动的。</text></g>
<g id="p6n2"><path d="M489,4162h241l8,15l-8,15h-241l-8,-15z"/><text x="490" y="4181.4">有下列情形之一，承租人有权解除本合同：</text></g>
<g id="p6n21"><path d="M194,4120h252l8,21.5l-8,21.5h-252l-8,-21.5z"/><text x="195" y="4137.65"><tspan x="195" dy="0">1. 出租人迟延交付出租房屋__________个月</tspan><tspan x="195" dy="16.5">以上;</tspan></text></g>
<g id="p6n22"><path d="M194,4193h252l8,21l-8,21h-252l-8,-21z"/><text x="195" y="4210.15"><tspan x="195" dy="0">2. 出租人违反本合同约定，不承担维修责任</tspan><tspan x="195" dy="16.5">，使承租人无法继续使用出租房屋。</tspan></text></g>
<g id="p6o"><path d="M655,4265h252l8,21.5l-8,21.5h-252l-8,-21.5z"/><text x="656" y="4282.65"><tspan x="656" dy="0">第十二条房屋租赁合同期满，承租人返还房屋</tspan><tspan x="656" dy="16.5">的时间是：_______________</tspan></text></g>
<g id="p6p"><path d="M796,4439h111l8,12.5l-8,12.5h-111l-8,-12.5z"/><text x="797" y="4455.9">第十三条违约责任：</text></g>
<g id="p6p1"><path d="M505,4340h248l8,28.5l-8,28.5h-248l-8,-28.5z"/><text x="506" y="4356.4"><tspan x="506" dy="0">出租人未按时或未按要求维修出租房屋造成承</tspan><tspan x="506" dy="16.5">租人人身受到伤害或财物毁损的，负责赔偿损</tspan><tspan x="506" dy="16.5">失。</tspan></text></g>
<g id="p6p2"><path d="M505,4429h248l8,21.5l-8,21.5h-248l-8,-21.5z"/><text x="506" y="4446.65"><tspan x="506" dy="0">承租人逾期交付租金的，除应及时如数补交外</tspan><tspan x="506" dy="16.5">，还应支付滞纳金。</tspan></text></g>
<g id="p6p3"><path d="M505,4504h248l8,29.5l-8,29.5h-248l-8,-29.5z"/><text x="506" y="4521.4"><tspan x="506" dy="0">承租人违反合同，擅自将出租房屋转租房屋转</tspan><tspan x="506" dy="16.5">租第三人使用的，因此造成出租房屋毁坏的，</tspan><tspan x="506" dy="16.5">应负损害赔偿责任。</tspan></text></g>
<g id="p6q"><path d="M656,4592h251l8,40l-8,40h-251l-8,-40z"/><text x="657" y="4611.65"><tspan x="657" dy="0">第十四条合同争议的解决方式：本合同在履行</tspan><tspan x="657" dy="16.5">过程中发生的争议，由双方当事人协商解决;</tspan><tspan x="657" dy="16.5">也可由有关部门调解;协商或调解不成的，按</tspan><tspan x="657" dy="16.5">下列第______种方式解决：</tspan></text></g>
<g id="p6q1"><path d="M407,4590h206l8,14l-8,14h-206l-8,-14z"/><text x="408" y="4608.4">(一)提交___________仲裁委员会仲裁;</text></g>
<g id="p6q2"><path d="M468,4650h145l8,14.5l-8,14.5h-145l-8,-14.5z"/><text x="469" y="4668.9">(二)依法向人民法院起诉。</text></g>
<g id="p6r"><path d="M656,5237h251l8,23l-8,23h-251l-8,-23z"/><text x="657" y="5256.15"><tspan x="657" dy="0">第十五条其他约定事项：____________________</tspan><tspan x="657" dy="16.5">___</tspan></text></g>
<g id="p6r1"><path d="M544,4707h69l8,13.5l-8,13.5h-69l-8,-13.5z"/><text x="542" y="4724.9">甲方(出租方)</text></g>
<g id="p6r2"><path d="M552,4765h61l8,13.5l-8,13.5h-61l-8,-13.5z"/><text x="550" y="4782.9">身份证号：</text></g>
<g id="p6r3"><path d="M552,4821h61l8,14.5l-8,14.5h-61l-8,-14.5z"/><text x="550" y="4839.9">联系电话：</text></g>
<g id="p6r3a"><path d="M444,4821h66l8,14.5l-8,14.5h-66l-8,-14.5z"/><text x="441" y="4839.9">乙方(承租方)</text></g>
<g id="p6r4"><path d="M552,4879h61l8,13.5l-8,13.5h-61l-8,-13.5z"/><text x="550" y="4896.9">身份证号：</text></g>
<g id="p6r5"><path d="M552,4935h61l8,14.5l-8,14.5h-61l-8,-14.5z"/><text x="550" y="4953.9">联系电话：</text></g>
<g id="p6r6"><path d="M359,4993h254l8,22l-8,22h-254l-8,-22z"/><text x="360" y="5011.15"><tspan x="360" dy="0">兹经双方友好协商，订立下列房屋租赁条约，</tspan><tspan x="360" dy="16.5">供共同遵守：</tspan></text></g>
<g id="p6r6a"><path d="M232,5002h85l8,13.5l-8,13.5h-85l-8,-13.5z"/><text x="233" y="5019.9">一、房屋座落：</text></g>
<g id="p6r7"><path d="M579,5066h34l8,14l-8,14h-34l-8,-14z"/><text x="579" y="5084.4">房型：</text></g>
<g id="p6r8"><path d="M552,5124h61l8,13.5l-8,13.5h-61l-8,-13.5z"/><text x="550" y="5141.9">房屋面积：</text></g>
<g id="p6r9"><path d="M526,5182h87l8,14l-8,14h-87l-8,-14z"/><text x="526" y="5200.4">房屋附属设施：</text></g>
<g id="p6r10"><path d="M552,5783h61l8,15.5l-8,15.5h-61l-8,-15.5z"/><text x="550" y="5802.9">房屋证号：</text></g>
<g id="p6s1"><path d="M439,5386h71l8,14l-8,14h-71l-8,-14z"/><text x="438" y="5404.4">二、租赁期限</text></g>
<g id="p6s11"><path d="M143,5238h253l8,31.5l-8,31.5h-253l-8,-31.5z"/><text x="143" y="5257.4"><tspan x="143" dy="0">由二零 年 月 日至二零 年 月 日。租金支付方</tspan><tspan x="143" dy="16.5">式 .支付下次租金须提前 天。如逾期 天不支</tspan><tspan x="143" dy="16.5">付，则甲方有权无条件收回房屋。</tspan></text></g>
<g id="p6s12"><path d="M143,5328h253l8,22l-8,22h-253l-8,-22z"/><text x="143" y="5346.15"><tspan x="143" dy="0">1、甲乙双方议定上述房屋月租金为人民币(大</tspan><tspan x="143" dy="16.5">写) 元;(小写) 元。</tspan></text></g>
<g id="p6s13"><path d="M143,5402h253l8,38.5l-8,38.5h-253l-8,-38.5z"/><text x="143" y="5420.15"><tspan x="143" dy="0">2、乙方向甲方支付押金 元作为水、电、电话</tspan><tspan x="143" dy="16.5">、物业管理费等的抵押金。乙方租赁期满后，</tspan><tspan x="143" dy="16.5">在结清相关费用时，甲方须退还给乙方此项押</tspan><tspan x="143" dy="16.5">金。</tspan></text></g>
<g id="p6s14"><path d="M143,5511h253l8,21.5l-8,21.5h-253l-8,-21.5z"/><text x="143" y="5536.9">3、如须向有关部门登记，则登记费由 方支付</text></g>
<g id="p6s2"><path d="M259,5587h251l8,52l-8,52h-251l-8,-52z"/><text x="259" y="5602.15"><tspan x="259" dy="0">三、乙方须爱护房屋及设施，有任何结构改动</tspan><tspan x="259" dy="16.5">必须征得甲方同意，房屋及设施如因自然原因</tspan><tspan x="259" dy="16.5">损坏由甲方负责修缮或赔偿。从乙方入住之日</tspan><tspan x="259" dy="16.5">起，乙方即对房屋安全负责，除因地震等不可</tspan><tspan x="259" dy="16.5">抗拒因素外，其它因水、电、火、煤气造成的</tspan><tspan x="259" dy="16.5">损失由乙方承担。</tspan></text></g>
<g id="p6s3"><path d="M259,5725h251l8,38l-8,38h-251l-8,-38z"/><text x="259" y="5742.65"><tspan x="259" dy="0">四、从乙方入住之日起，由乙方负责水费、电</tspan><tspan x="259" dy="16.5">费、煤气费、电话费、物业管理费、有线电视</tspan><tspan x="259" dy="16.5">费、前期费用由甲方负责。水表止码 ;电表止</tspan><tspan x="259" dy="16.5">码 ;煤气表止码 .</tspan></text></g>
<g id="p6s4"><path d="M259,5832h251l8,29l-8,29h-251l-8,-29z"/><text x="259" y="5848.9"><tspan x="259" dy="0">五、如甲乙双方有任何一方需提前解除租赁合</tspan><tspan x="259" dy="16.5">同，必须提前 天通知对方，并支付人民币 元</tspan><tspan x="259" dy="16.5">作为解约赔偿。</tspan></text></g>
<g id="p6s5"><path d="M259,5920h251l8,38.5l-8,38.5h-251l-8,-38.5z"/><text x="259" y="5938.15"><tspan x="259" dy="0">六、在租赁期内，如甲方要出售此房屋，在同</tspan><tspan x="259" dy="16.5">等条件下乙方享有优先购买权，如乙方不愿购</tspan><tspan x="259" dy="16.5">买，则购买的第三方自然成为本合同的甲方，</tspan><tspan x="259" dy="16.5">承担甲方义务，行使甲方权利。</tspan></text></g>
<g id="p6s6"><path d="M259,6027h251l8,38.5l-8,38.5h-251l-8,-38.5z"/><text x="259" y="6045.15"><tspan x="259" dy="0">七、租赁期满后，如乙方要求继续租赁，则须</tspan><tspan x="259" dy="16.5">提前 个月向甲方提出，甲方收到乙方要求后</tspan><tspan x="259" dy="16.5"> 天内答复。如同意继续租赁，则续签租赁合</tspan><tspan x="259" dy="16.5">同。同等条件下，乙方享有优先租赁的权利。</tspan></text></g>
<g id="p6s7"><path d="M259,6166h251l8,30l-8,30h-251l-8,-30z"/><text x="259" y="6183.9"><tspan x="259" dy="0">八、本合同未尽事项，由甲乙双方另行议定，</tspan><tspan x="259" dy="16.5">本合同一式两份，甲乙双方各执一份，自双方</tspan><tspan x="259" dy="16.5">签字之日起生效。</tspan></text></g>
</g>

<g class="pk">
<g id="p3a"><path d="M1653,1609h34l8,13l-8,13h-34l-8,-13z"/><text x="1652" y="1626.4">甲方：</text></g>
<g id="p3b"><path d="M1653,2266h34l8,14.5l-8,14.5h-34l-8,-14.5z"/><text x="1652" y="2284.9">乙方：</text></g>
<g id="p3b1"><path d="M1728,1664h253l8,31.5l-8,31.5h-253l-8,-31.5z"/><text x="1728" y="1683.4"><tspan x="1728" dy="0">经甲、乙双方共同协商，在平等自愿的基础上</tspan><tspan x="1728" dy="16.5">，甲方将租用的__市__区__路___号第_层两个</tspan><tspan x="1728" dy="16.5">教室转租给乙方作为办学使用。</tspan></text></g>
<g id="p3b2"><path d="M1728,1757h253l8,29.5l-8,29.5h-253l-8,-29.5z"/><text x="1728" y="1774.4"><tspan x="1728" dy="0">第一条：房屋座落在__市__区__路___号，____</tspan><tspan x="1728" dy="16.5">市场有限公司办公楼第_层内廊南侧西头起第_</tspan><tspan x="1728" dy="16.5">间房、第_间房。</tspan></text></g>
<g id="p3b3"><path d="M1728,1848h253l8,21l-8,21h-253l-8,-21z"/><text x="1728" y="1865.15"><tspan x="1728" dy="0">第二条：租赁期限为一年，自 年 月 日至 年</tspan><tspan x="1728" dy="16.5">月 日止。</tspan></text></g>
<g id="p3b4"><path d="M1728,1921h253l8,71.5l-8,71.5h-253l-8,-71.5z"/><text x="1728" y="1939.15"><tspan x="1728" dy="0">第三条：年租金为 元人民币(壹万贰千元整)，</tspan><tspan x="1728" dy="16.5">押金： 元(贰千元整)(合同到期后，如乙方不</tspan><tspan x="1728" dy="16.5">拖欠甲方任何费用，由甲方返回押金给乙方)</tspan><tspan x="1728" dy="16.5">，乙方先付一季度房租 元，剩余房租分别于</tspan><tspan x="1728" dy="16.5">： 年 月 日前付 元， 年 月01日前付 元 。协</tspan><tspan x="1728" dy="16.5">议期满，乙方若要继续租赁房屋，甲方可以优</tspan><tspan x="1728" dy="16.5">先考虑与乙方续签租赁协议，租赁费用和年限</tspan><tspan x="1728" dy="16.5">另议。</tspan></text></g>
<g id="p3b5"><path d="M1728,2092h253l8,64l-8,64h-253l-8,-64z"/><text x="1728" y="2110.9"><tspan x="1728" dy="0">第四条：乙方按时向甲方付清房租，每逾期一</tspan><tspan x="1728" dy="16.5">日，由违约方按照房屋租金的千分之三向对方</tspan><tspan x="1728" dy="16.5">给付滞纳金，无特殊情况，违约超七日，甲方</tspan><tspan x="1728" dy="16.5">有权单方解除合同，责任由违约方承担，甲方</tspan><tspan x="1728" dy="16.5">不返还给乙方押金和剩余租金。乙方在租赁期</tspan><tspan x="1728" dy="16.5">间，所办理相关手续和费用，全部由乙方负责</tspan><tspan x="1728" dy="16.5">。</tspan></text></g>
<g id="p3b6"><path d="M1728,2249h253l8,31l-8,31h-253l-8,-31z"/><text x="1728" y="2267.9"><tspan x="1728" dy="0">第五条：乙方须在国家法律和政策法规允许范</tspan><tspan x="1728" dy="16.5">围内守法经营，否则甲方有权终止履行协议，</tspan><tspan x="1728" dy="16.5">由此造成的一切损失由乙方自行承担。</tspan></text></g>
<g id="p3b7"><path d="M1728,2338h253l8,40l-8,40h-253l-8,-40z"/><text x="1728" y="2357.65"><tspan x="1728" dy="0">第六条：租赁期内，乙方应承担电和内部改造</tspan><tspan x="1728" dy="16.5">维修等全部费用，并对所租房屋(场所)由于乙</tspan><tspan x="1728" dy="16.5">方原因出现的一切事宜承担责任，包括火灾、</tspan><tspan x="1728" dy="16.5">失盗或其它安全事故。</tspan></text></g>
<g id="p3b8"><path d="M1728,2447h253l8,31.5l-8,31.5h-253l-8,-31.5z"/><text x="1728" y="2466.4"><tspan x="1728" dy="0">第七条：如甲乙双方有一方提前终止本合同，</tspan><tspan x="1728" dy="16.5">须经另一方同意，否则应按照合同总租金的一</tspan><tspan x="1728" dy="16.5">倍向另一方支付违约金。</tspan></text></g>
<g id="p3b9"><path d="M1728,2538h253l8,38.5l-8,38.5h-253l-8,-38.5z"/><text x="1728" y="2556.15"><tspan x="1728" dy="0">第八条：协议履行期内，办公楼若遇规划拆迁</tspan><tspan x="1728" dy="16.5">;自然灾害而无法继续承租，甲方应提前一个</tspan><tspan x="1728" dy="16.5">月通知乙方，乙方将无条件退出。未达到承租</tspan><tspan x="1728" dy="16.5">时间，甲方应无条件返还乙方剩余租费。</tspan></text></g>
<g id="p3b10"><path d="M1728,2645h253l8,39l-8,39h-253l-8,-39z"/><text x="1728" y="2663.65"><tspan x="1728" dy="0">第九条：本协议未尽事宜，甲、乙双方可以补</tspan><tspan x="1728" dy="16.5">充协议予以明确;本协议若有争议，由甲乙双</tspan><tspan x="1728" dy="16.5">方协商解决，若协商解决不了，可由当地人民</tspan><tspan x="1728" dy="16.5">法院裁决。</tspan></text></g>
<g id="p3b11"><path d="M1728,2750h253l8,23l-8,23h-253l-8,-23z"/><text x="1728" y="2769.15"><tspan x="1728" dy="0">第十条：本协议一式二份，甲、乙双方各执一</tspan><tspan x="1728" dy="16.5">份。</tspan></text></g>
<g id="p3b12"><path d="M1728,2851h253l8,16l-8,16h-253l-8,-16z"/><text x="1728" y="2871.4">第十一条：本协议由甲、乙双方盖章后生效。</text></g>
<g id="p3c1"><path d="M2023,2822h85l8,16.5l-8,16.5h-85l-8,-16.5z"/><text x="2023" y="2842.9">甲方： 年 月 日</text></g>
<g id="p3c2"><path d="M2023,2880h85l8,15l-8,15h-85l-8,-15z"/><text x="2023" y="2899.4">乙方： 年 月 日</text></g>
</g>

<g class="pu">
<g id="p5a"><path d="M1653,2940h201l8,13.5l-8,13.5h-201l-8,-13.5z"/><text x="1653" y="2957.9">出租方：(以下简称甲方)___________</text></g>
<g id="p5b"><path d="M1653,2997h201l8,13.5l-8,13.5h-201l-8,-13.5z"/><text x="1653" y="3014.9">承租方：(以下简称乙方)___________</text></g>
<g id="p5c"><path d="M1653,3054h247l8,38l-8,38h-247l-8,-38z"/><text x="1653" y="3071.65"><tspan x="1653" dy="0">根据国家有关法律法规的规定，为明确双方的</tspan><tspan x="1653" dy="16.5">权利和义务的关系，经双方共同协商一致，同</tspan><tspan x="1653" dy="16.5">意就以下房地产租赁事项订立契约，并严格遵</tspan><tspan x="1653" dy="16.5">守。</tspan></text></g>
<g id="p5d"><path d="M1653,3161h247l8,55.5l-8,55.5h-247l-8,-55.5z"/><text x="1653" y="3179.65"><tspan x="1653" dy="0">一、甲方自愿将座落在的房屋出租给乙方使用</tspan><tspan x="1653" dy="16.5">，(结构为二室一厅的房屋，面积93平方，小</tspan><tspan x="1653" dy="16.5">储14平方)。租赁期限为，从_____年_____月</tspan><tspan x="1653" dy="16.5">_____日至_____年_____月_____日止。月租</tspan><tspan x="1653" dy="16.5">金___________元。押金___________元共计人</tspan><tspan x="1653" dy="16.5">民币___________元。</tspan></text></g>
<g id="p5e"><path d="M1653,3299h247l8,72.5l-8,72.5h-247l-8,-72.5z"/><text x="1653" y="3318.15"><tspan x="1653" dy="0">二、甲方保证上述房地产权属清楚，若发生与</tspan><tspan x="1653" dy="16.5">甲方有关的产权纠纷与债务，概由甲方负责清</tspan><tspan x="1653" dy="16.5">理，因此给乙方造成的经济损失，甲方负责赔</tspan><tspan x="1653" dy="16.5">偿。乙方不得利用该房从事违法乱纪活动，如</tspan><tspan x="1653" dy="16.5">有由其承担全部责任，与出租方无关，房屋租</tspan><tspan x="1653" dy="16.5">赁期内，乙方如需转租第三人使用或第三人互</tspan><tspan x="1653" dy="16.5">换房屋使用，必须取得甲方同意，否则甲方可</tspan><tspan x="1653" dy="16.5">无偿收回该出租房。</tspan></text></g>
<g id="p5f"><path d="M1653,3490h247l8,55l-8,55h-247l-8,-55z"/><text x="1653" y="3508.15"><tspan x="1653" dy="0">三、任何一方未及时履行本契约，或违反国家</tspan><tspan x="1653" dy="16.5">的有关法律、法规，另方有权提前解约，所造</tspan><tspan x="1653" dy="16.5">成的损失由责任一方承担。本合同未尽事宜，</tspan><tspan x="1653" dy="16.5">由甲方双方共同协商签定补充条款，补充条款</tspan><tspan x="1653" dy="16.5">与本合同具有同等努力，合同一式二份，双方</tspan><tspan x="1653" dy="16.5">各执一份，经仔细阅读签字后生效。</tspan></text></g>
<g id="p5f1"><path d="M1948,3474h249l8,13.5l-8,13.5h-249l-8,-13.5z"/><text x="1948" y="3491.9">出租方签字：___________电话：___________</text></g>
<g id="p5f2"><path d="M1948,3531h249l8,14l-8,14h-249l-8,-14z"/><text x="1948" y="3549.4">承租方签字：___________电话：___________</text></g>
<g id="p5f3"><path d="M1948,3589h135l8,13.5l-8,13.5h-135l-8,-13.5z"/><text x="1948" y="3606.9">日期：_______________</text></g>
</g>

<g class="bl">
<g id="p7a"><path d="M1653,3646h251l8,22l-8,22h-251l-8,-22z"/><text x="1653" y="3664.15"><tspan x="1653" dy="0">出租方：(以下简称甲方)____________________</tspan><tspan x="1653" dy="16.5">____</tspan></text></g>
<g id="p7b"><path d="M1653,3719h251l8,22l-8,22h-251l-8,-22z"/><text x="1653" y="3737.15"><tspan x="1653" dy="0">承租方：(以下简称乙方)____________________</tspan><tspan x="1653" dy="16.5">____</tspan></text></g>
<g id="p7c"><path d="M1653,4246h251l8,22.5l-8,22.5h-251l-8,-22.5z"/><text x="1653" y="4264.65"><tspan x="1653" dy="0">甲乙双方经友好协商，乙方为设立公司而租用</tspan><tspan x="1653" dy="16.5">甲方房屋，并就此租房事宜达成如下协议：</tspan></text></g>
<g id="p7c1"><path d="M1948,3793h251l8,22l-8,22h-251l-8,-22z"/><text x="1948" y="3811.15"><tspan x="1948" dy="0">一、甲方同意供给乙方经营用房___平方米，</tspan><tspan x="1948" dy="16.5">用于该公司经营之用，该房屋坐落于___。</tspan></text></g>
<g id="p7c2"><path d="M1948,3868h251l8,22l-8,22h-251l-8,-22z"/><text x="1948" y="3886.15"><tspan x="1948" dy="0">二、该房屋租金经双方商定为每月元。该房屋</tspan><tspan x="1948" dy="16.5">总租金为___元。</tspan></text></g>
<g id="p7c3"><path d="M1948,3940h251l8,38.5l-8,38.5h-251l-8,-38.5z"/><text x="1948" y="3958.15"><tspan x="1948" dy="0">三、租金于___交付，每延迟一天按总租金的_</tspan><tspan x="1948" dy="16.5">__计罚。若___天内仍未交纳，甲方有权收回</tspan><tspan x="1948" dy="16.5">该房屋，并按实际迟付天数依上述计罚比例向</tspan><tspan x="1948" dy="16.5">乙方收取罚金。</tspan></text></g>
<g id="p7c4"><path d="M1948,4048h251l8,21.5l-8,21.5h-251l-8,-21.5z"/><text x="1948" y="4065.65"><tspan x="1948" dy="0">四、乙方同意预交___元作为保证金，合同终</tspan><tspan x="1948" dy="16.5">止时，当作房租冲抵。</tspan></text></g>
<g id="p7c5"><path d="M1948,4120h251l8,48l-8,48h-251l-8,-48z"/><text x="1948" y="4139.4"><tspan x="1948" dy="0">五、房屋租赁期为___，从___年___月___日至_</tspan><tspan x="1948" dy="16.5">__年___月___日。在此期间，任何一方要求终</tspan><tspan x="1948" dy="16.5">止合同，须提前三个月通知对方，并偿付对方</tspan><tspan x="1948" dy="16.5">总租金___的违约金;如果甲方转让该房屋，乙</tspan><tspan x="1948" dy="16.5">方有优先购买权。</tspan></text></g>
<g id="p7c6"><path d="M1948,4244h251l8,22.5l-8,22.5h-251l-8,-22.5z"/><text x="1948" y="4262.65"><tspan x="1948" dy="0">六、因租用该房屋所发生的除土地费、大修费</tspan><tspan x="1948" dy="16.5">以外的其它费用，由乙方承担。</tspan></text></g>
<g id="p7c7"><path d="M1948,4319h251l8,38.5l-8,38.5h-251l-8,-38.5z"/><text x="1948" y="4337.15"><tspan x="1948" dy="0">七、在承租期间，未经甲方同意，乙方无权转</tspan><tspan x="1948" dy="16.5">租或转借该房屋;不得改变房屋结构及其用途</tspan><tspan x="1948" dy="16.5">，由于乙方人为原因造成该房屋及其配套设施</tspan><tspan x="1948" dy="16.5">损坏的，由乙方承担赔偿责任。</tspan></text></g>
<g id="p7c8"><path d="M1948,4424h251l8,31l-8,31h-251l-8,-31z"/><text x="1948" y="4442.9"><tspan x="1948" dy="0">八、甲方保证该房屋无产权纠纷;乙方因经营</tspan><tspan x="1948" dy="16.5">需要，要求甲方提供房屋产权证明或其它有关</tspan><tspan x="1948" dy="16.5">证明材料的，甲方应予以协助。</tspan></text></g>
<g id="p7c9"><path d="M1948,4514h251l8,23l-8,23h-251l-8,-23z"/><text x="1948" y="4533.15"><tspan x="1948" dy="0">九、就本合同发生纠纷，双方协商解决，协商</tspan><tspan x="1948" dy="16.5">不成，</tspan></text></g>
<g id="p7c10"><path d="M1948,4702h251l8,21l-8,21h-251l-8,-21z"/><text x="1948" y="4719.15"><tspan x="1948" dy="0">十、本合同未尽事宜，可由双方协商签订补充</tspan><tspan x="1948" dy="16.5">协议，经公证后与本合同具有同等法律效力。</tspan></text></g>
<g id="p7d1"><path d="M2242,4523h254l8,14l-8,14h-254l-8,-14z"/><text x="2243" y="4541.4">任何一方均可向人民法院起诉。</text></g>
<g id="p7e1"><path d="M2242,4588h284l8,14l-8,14h-284l-8,-14z"/><text x="2243" y="4606.4">本合同一式两份，甲、乙双方各执一份。</text></g>
<g id="p7e2"><path d="M2242,4669h284l8,14l-8,14h-284l-8,-14z"/><text x="2243" y="4687.4">甲方(盖章)：________ 乙方(盖章)：________</text></g>
<g id="p7e3"><path d="M2242,4757h284l8,14l-8,14h-284l-8,-14z"/><text x="2243" y="4775.4">代表人：________ 代表人：________</text></g>
<g id="p7e4"><path d="M2242,4826h284l8,14l-8,14h-284l-8,-14z"/><text x="2243" y="4844.4">______年___月___日 ______年___月___日</text></g>
</g>
</g>
</svg>
